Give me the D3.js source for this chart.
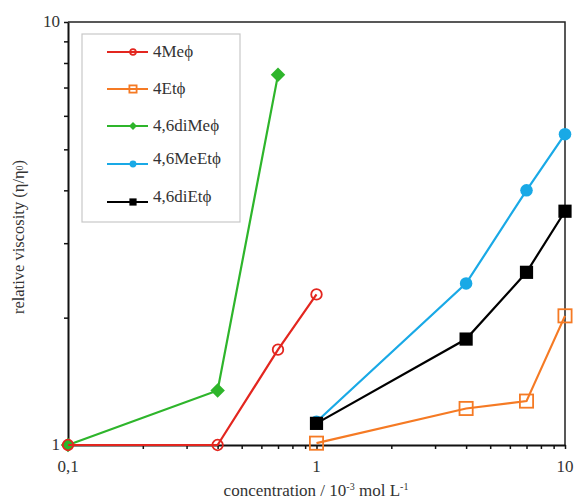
<!DOCTYPE html>
<html><head><meta charset="utf-8">
<script src="https://cdn.jsdelivr.net/npm/d3@7"></script>
<style>body{margin:0;background:#fff}svg{display:block}</style>
</head><body>
<svg id="c" width="576" height="502"></svg>
<script>
const seriesNames = ["4Meϕ","4Etϕ","4,6diMeϕ","4,6MeEtϕ","4,6diEtϕ"];
const seriesColors = ["#e3261f","#f57a24","#2eb52b","#19a9e6","#000000"];
const seriesMarkers = ["openCircle","openSquare","diamond","circle","square"];
const drawOrder = [2, 0, 1, 3, 4];
const x4Me = [0.1, 0.4, 0.7, 1];
const y4Me = [1.0, 1.0, 1.68, 2.27];
const x4Et = [1, 4, 7, 10];
const y4Et = [1.01, 1.22, 1.27, 2.02];
const x46diMe = [0.1, 0.4, 0.7];
const y46diMe = [1.0, 1.345, 7.5];
const x46MeEt = [1, 4, 7, 10];
const y46MeEt = [1.135, 2.41, 4.0, 5.43];
const x46diEt = [1, 4, 7, 10];
const y46diEt = [1.125, 1.78, 2.56, 3.57];
const xTickLabels = ["0,1","1","10"];
const yTickLabels = ["1","10"];

const seriesX = [x4Me, x4Et, x46diMe, x46MeEt, x46diEt];
const seriesY = [y4Me, y4Et, y46diMe, y46MeEt, y46diEt];

const svg = d3.select("#c");
const L = 68, R = 565, T = 22, B = 445;
const x = d3.scaleLog().domain([0.1, 10]).range([L, R]);
const y = d3.scaleLog().domain([1, 10]).range([B, T]);
const font = "'Liberation Serif','Times New Roman',serif";

svg.append("path").attr("d", `M${L},${T}H${R}V${B}`).attr("fill","none").attr("stroke","#222").attr("stroke-width",1.5);

const minorX = [];
[0.1,1].forEach(d => { for (let k=2;k<=9;k++) minorX.push(d*k); });
const xAxis = d3.axisBottom(x).tickValues(minorX.concat([0.1,1,10])).tickFormat("").tickSize(4).tickSizeOuter(0);
const gx = svg.append("g").attr("transform", `translate(0,${B})`).call(xAxis);
gx.select(".domain").attr("stroke","#111").attr("stroke-width",2);
gx.selectAll(".tick line").attr("stroke","#111").attr("stroke-width",1.5);

const minorY = [];
for (let k=2;k<=9;k++) minorY.push(k);
const yAxis = d3.axisLeft(y).tickValues(minorY.concat([1,10])).tickFormat("").tickSize(4).tickSizeOuter(0);
const gy = svg.append("g").attr("transform", `translate(${L},0)`).call(yAxis);
gy.select(".domain").attr("stroke","#111").attr("stroke-width",2);
gy.selectAll(".tick line").attr("stroke","#111").attr("stroke-width",1.5);

[0.1,1,10].forEach((v,i)=>{
  svg.append("text").attr("x", x(v)).attr("y", B+27).attr("text-anchor","middle")
    .attr("font-family",font).attr("font-size",17).attr("fill","#333").text(xTickLabels[i]);
});
[1,10].forEach((v,i)=>{
  svg.append("text").attr("x", L-8).attr("y", y(v)+5).attr("text-anchor","end")
    .attr("font-family",font).attr("font-size",17).attr("fill","#333").text(yTickLabels[i]);
});

const xl = svg.append("text").attr("x", 316).attr("y", 496).attr("text-anchor","middle")
  .attr("font-family",font).attr("font-size",17).attr("fill","#333");
xl.append("tspan").text("concentration / 10");
xl.append("tspan").attr("font-size",10).attr("dy",-6).text("-3");
xl.append("tspan").attr("dy",6).text(" mol L");
xl.append("tspan").attr("font-size",10).attr("dy",-6).text("-1");

const yl = svg.append("text").attr("transform", `translate(24,237) rotate(-90)`).attr("text-anchor","middle")
  .attr("font-family",font).attr("font-size",16.5).attr("fill","#333");
yl.append("tspan").text("relative viscosity (η/η");
yl.append("tspan").attr("font-size",10).attr("dy",-1).text("0");
yl.append("tspan").attr("dy",1).text(")");

function marker(g, type, color, cx, cy, s) {
  if (type === "openCircle") {
    g.append("circle").attr("cx",cx).attr("cy",cy).attr("r",s*0.8).attr("fill","none").attr("stroke",color).attr("stroke-width",1.8);
  } else if (type === "openSquare") {
    g.append("rect").attr("x",cx-s).attr("y",cy-s).attr("width",2*s).attr("height",2*s).attr("fill","none").attr("stroke",color).attr("stroke-width",1.8);
  } else if (type === "diamond") {
    const d = s*1.1;
    g.append("path").attr("d",`M${cx},${cy-d}L${cx+d},${cy}L${cx},${cy+d}L${cx-d},${cy}Z`).attr("fill",color);
  } else if (type === "circle") {
    g.append("circle").attr("cx",cx).attr("cy",cy).attr("r",s*0.95).attr("fill",color);
  } else {
    g.append("rect").attr("x",cx-s).attr("y",cy-s).attr("width",2*s).attr("height",2*s).attr("fill",color);
  }
}

const line = d3.line().x(d=>x(d[0])).y(d=>y(d[1]));
drawOrder.forEach(i => {
  const pts = seriesX[i].map((v,j)=>[v, seriesY[i][j]]);
  const g = svg.append("g");
  g.append("path").datum(pts).attr("d", line).attr("fill","none").attr("stroke",seriesColors[i]).attr("stroke-width",2.2);
  pts.forEach(p => marker(g, seriesMarkers[i], seriesColors[i], x(p[0]), y(p[1]), 6.6));
});

svg.append("rect").attr("x",82).attr("y",34).attr("width",158).attr("height",188).attr("fill","#fff").attr("stroke","#c8c8c8").attr("stroke-width",1.2);
const rows = [52, 89, 126, 164, 202];
seriesNames.forEach((name,i)=>{
  const g = svg.append("g");
  g.append("line").attr("x1",107).attr("x2",148).attr("y1",rows[i]).attr("y2",rows[i]).attr("stroke",seriesColors[i]).attr("stroke-width",1.8);
  marker(g, seriesMarkers[i], seriesColors[i], 133, rows[i], 3.6);
  g.append("text").attr("x",153).attr("y",rows[i]+(i>=3?0:5)).attr("font-family",font).attr("font-size",17).attr("fill","#333").text(name);
});
</script>
</body></html>
